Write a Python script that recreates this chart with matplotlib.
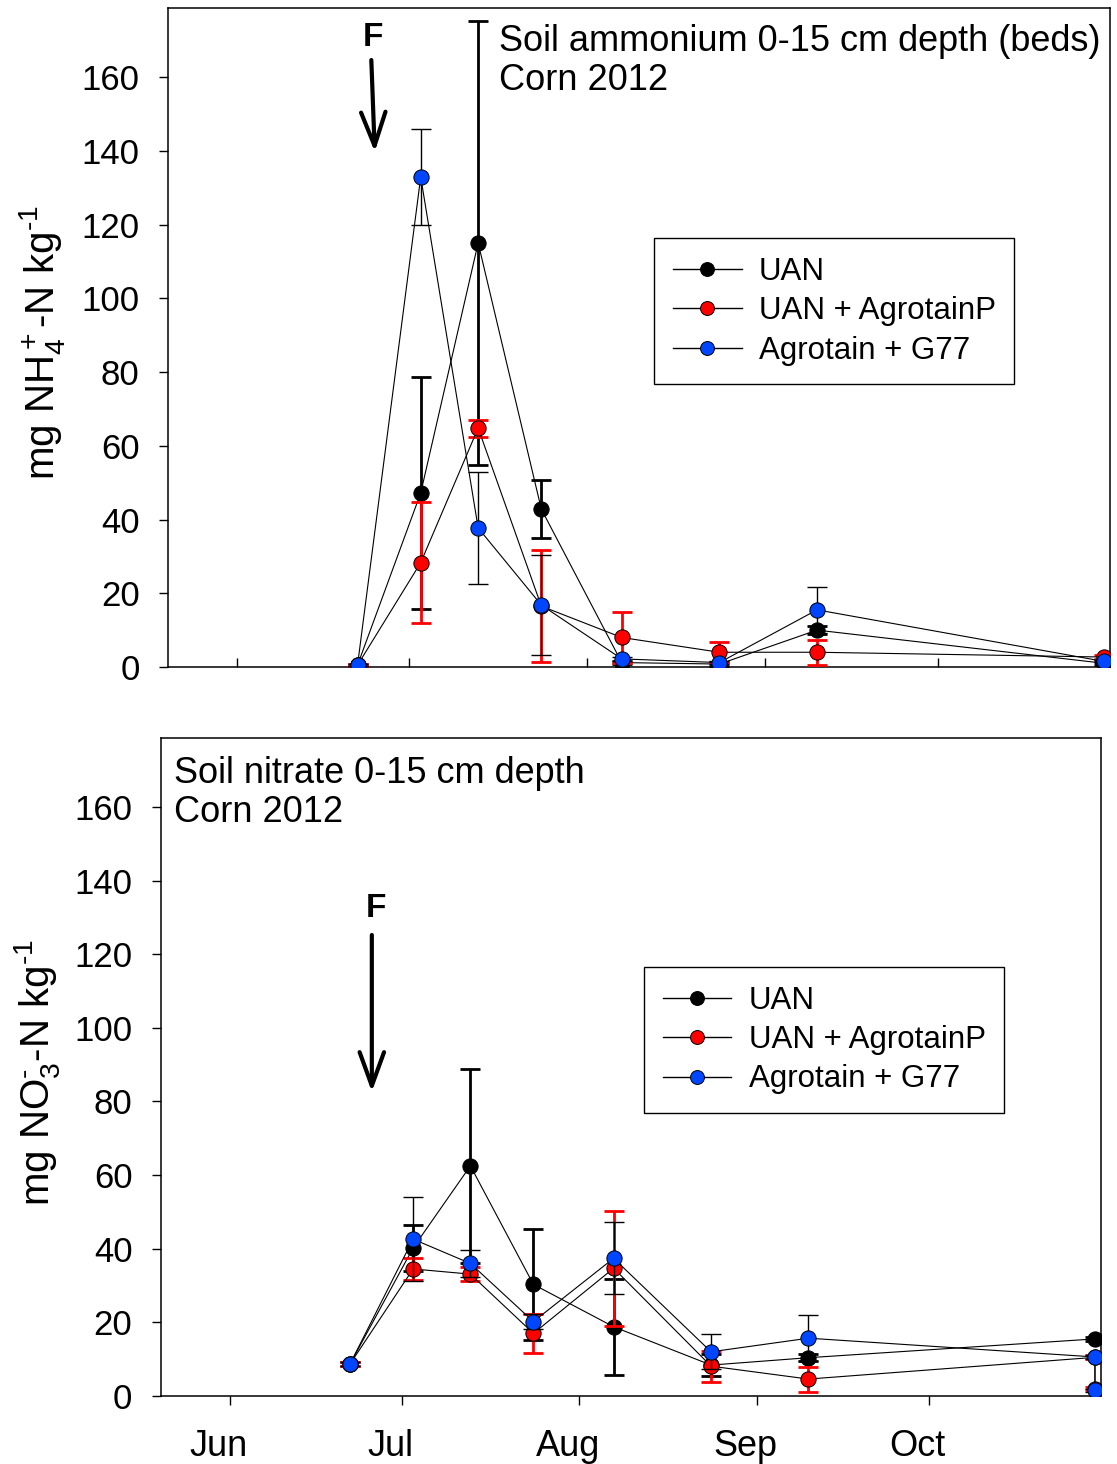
import matplotlib
matplotlib.use('Agg')
import matplotlib.pyplot as plt
import pandas as pd
from matplotlib.lines import Line2D
from matplotlib.transforms import ScaledTranslation

plt.rcParams['font.family'] = ['Liberation Sans', 'DejaVu Sans']
plt.rcParams['mathtext.fontset'] = 'custom'
plt.rcParams['mathtext.rm'] = 'Liberation Sans'
plt.rcParams['mathtext.it'] = 'Liberation Sans:italic'
plt.rcParams['mathtext.default'] = 'regular'

# sampling dates (the last nitrate sample has a repeat reading)
sampling = pd.to_datetime(['2012-06-22', '2012-07-03', '2012-07-13', '2012-07-24',
                           '2012-08-07', '2012-08-24', '2012-09-10', '2012-10-30'])
sampling_ext = sampling.append(pd.to_datetime(['2012-10-30']))

treatments = ['UAN', 'UAN + AgrotainP', 'Agrotain + G77']

# soil ammonium, mg NH4-N/kg, mean and SE
nh4_uan = [0.5, 47.2, 115.0, 42.8, 1.2, 0.8, 10.0, 1.0]
nh4_uan_se = [0.3, 31.5, 60.3, 7.8, 0.5, 0.5, 1.0, 0.5]
nh4_agp = [0.5, 28.3, 64.8, 16.5, 8.0, 4.0, 4.0, 2.7]
nh4_agp_se = [0.3, 16.4, 2.3, 15.2, 7.0, 2.8, 3.4, 0.5]
nh4_g77 = [0.5, 132.9, 37.7, 16.8, 2.2, 1.2, 15.5, 1.5]
nh4_g77_se = [0.3, 13.0, 15.1, 13.5, 0.5, 0.5, 6.3, 0.5]

# soil nitrate, mg NO3-N/kg, mean and SE
no3_uan = [8.7, 40.2, 62.5, 30.3, 18.8, 8.4, 10.4, 15.5]
no3_uan_se = [0.5, 6.2, 26.3, 15.0, 13.1, 3.0, 1.0, 0.5]
no3_agp = [8.7, 34.5, 33.1, 17.0, 34.7, 8.1, 4.6, 10.5, 2.0]
no3_agp_se = [0.5, 3.1, 2.0, 5.4, 15.6, 4.2, 3.4, 0.5, 0.5]
no3_g77 = [8.7, 42.6, 36.0, 20.2, 37.4, 12.0, 15.7, 10.6, 1.5]
no3_g77_se = [0.5, 11.4, 3.7, 2.0, 9.8, 4.8, 6.3, 0.5, 0.5]

months = pd.to_datetime(['2012-06-01', '2012-07-01', '2012-08-01', '2012-09-01', '2012-10-01'])
month_labels = ['Jun', 'Jul', 'Aug', 'Sep', 'Oct']
xmin, xmax = pd.Timestamp('2012-05-20'), pd.Timestamp('2012-10-31')

# fertilizer application marker
fert_date = pd.Timestamp('2012-06-25')

blue = '#0046ff'
red = '#ff0000'
hy = '\u2010'  # short hyphen for the superscripts

fig = plt.figure(figsize=(11.17, 14.64), dpi=100)
ax1 = fig.add_axes([0.1504, 0.5444, 0.8433, 0.4501])
ax2 = fig.add_axes([0.1441, 0.04645, 0.8413, 0.44945])


def draw_series(ax, x, y, se, face, ecol, elw, z):
    ax.errorbar(x, y, yerr=se, fmt='none', ecolor=ecol, elinewidth=elw,
                capsize=7.5, capthick=elw, zorder=z)
    ax.plot(x, y, color='black', lw=0.8, marker='o', ms=11, mfc=face,
            mec='black', mew=0.7, zorder=z + 0.5)


draw_series(ax1, sampling, nh4_uan, nh4_uan_se, 'black', 'black', 2.0, 3)
draw_series(ax1, sampling, nh4_agp, nh4_agp_se, red, red, 2.0, 4)
draw_series(ax1, sampling, nh4_g77, nh4_g77_se, blue, 'black', 1.0, 5)

draw_series(ax2, sampling, no3_uan, no3_uan_se, 'black', 'black', 2.0, 3)
draw_series(ax2, sampling_ext, no3_agp, no3_agp_se, red, red, 2.0, 4)
draw_series(ax2, sampling_ext, no3_g77, no3_g77_se, blue, 'black', 1.0, 5)

for ax in (ax1, ax2):
    ax.set_xlim(xmin, xmax)
    ax.set_ylim(0, 178.7)
    ax.set_yticks(range(0, 161, 20))
    ax.set_xticks(months)
    for s in ax.spines.values():
        s.set_linewidth(1.1)
    ax.tick_params(axis='y', direction='out', length=6.5, width=1, pad=14, labelsize=25)

ax1.tick_params(axis='x', direction='in', length=6.5, width=1, labelbottom=False)
ax2.tick_params(axis='x', direction='out', length=6.5, width=1, pad=17, labelsize=26)
ax2.set_xticklabels(month_labels)
shift = ScaledTranslation(-11 / 100, 0, fig.dpi_scale_trans)
for lab in ax2.get_xticklabels():
    lab.set_transform(lab.get_transform() + shift)

# panel titles
ax1.text(0.3514, 0.9765, 'Soil ammonium 0-15 cm depth (beds)\nCorn 2012',
         transform=ax1.transAxes, ha='left', va='top', fontsize=26, linespacing=1.15)
ax2.text(0.0138, 0.9724, 'Soil nitrate 0-15 cm depth\nCorn 2012',
         transform=ax2.transAxes, ha='left', va='top', fontsize=26, linespacing=1.15)

# y labels
ax1.text(-0.134, 0.493, r'mg NH$_4^+$-N kg$^{' + hy + '1}$', transform=ax1.transAxes,
         rotation=90, ha='center', va='center', rotation_mode='anchor', fontsize=29)
ax2.text(-0.132, 0.491, r'mg NO$_3^{' + hy + '}$-N kg$^{' + hy + '1}$', transform=ax2.transAxes,
         rotation=90, ha='center', va='center', rotation_mode='anchor', fontsize=29)

# fertilizer arrows
arrow = dict(arrowstyle='->,head_length=1.1,head_width=0.4', lw=3, color='black',
             mutation_scale=22, shrinkA=0, shrinkB=0)
ax1.annotate('', xy=(fert_date, 139.7), xytext=(fert_date - pd.Timedelta(days=0.6), 164.6),
             arrowprops=arrow)
ax1.text(fert_date - pd.Timedelta(days=0.3), 170.8, 'F', ha='center', va='center',
         fontsize=24, fontweight='bold')
ax2.annotate('', xy=(fert_date + pd.Timedelta(days=0.8), 82.6),
             xytext=(fert_date + pd.Timedelta(days=0.8), 125.2), arrowprops=arrow)
ax2.text(fert_date + pd.Timedelta(days=1.6), 132.5, 'F', ha='center', va='center',
         fontsize=24, fontweight='bold')

handles = [Line2D([], [], color='black', lw=1, marker='o', ms=10, mfc=c, mec='black', mew=0.7)
           for c in ('black', red, blue)]
for ax, anchor in ((ax1, (0.516, 0.651)), (ax2, (0.514, 0.652))):
    leg = ax.legend(handles, treatments, loc='upper left', bbox_to_anchor=anchor,
                    borderaxespad=0, fontsize=22.5, frameon=True, fancybox=False,
                    framealpha=1, edgecolor='black', handlelength=2.2,
                    handletextpad=0.55, labelspacing=0.3, borderpad=0.6)
    leg.get_frame().set_linewidth(1)

fig.savefig('out.png', dpi=100)
